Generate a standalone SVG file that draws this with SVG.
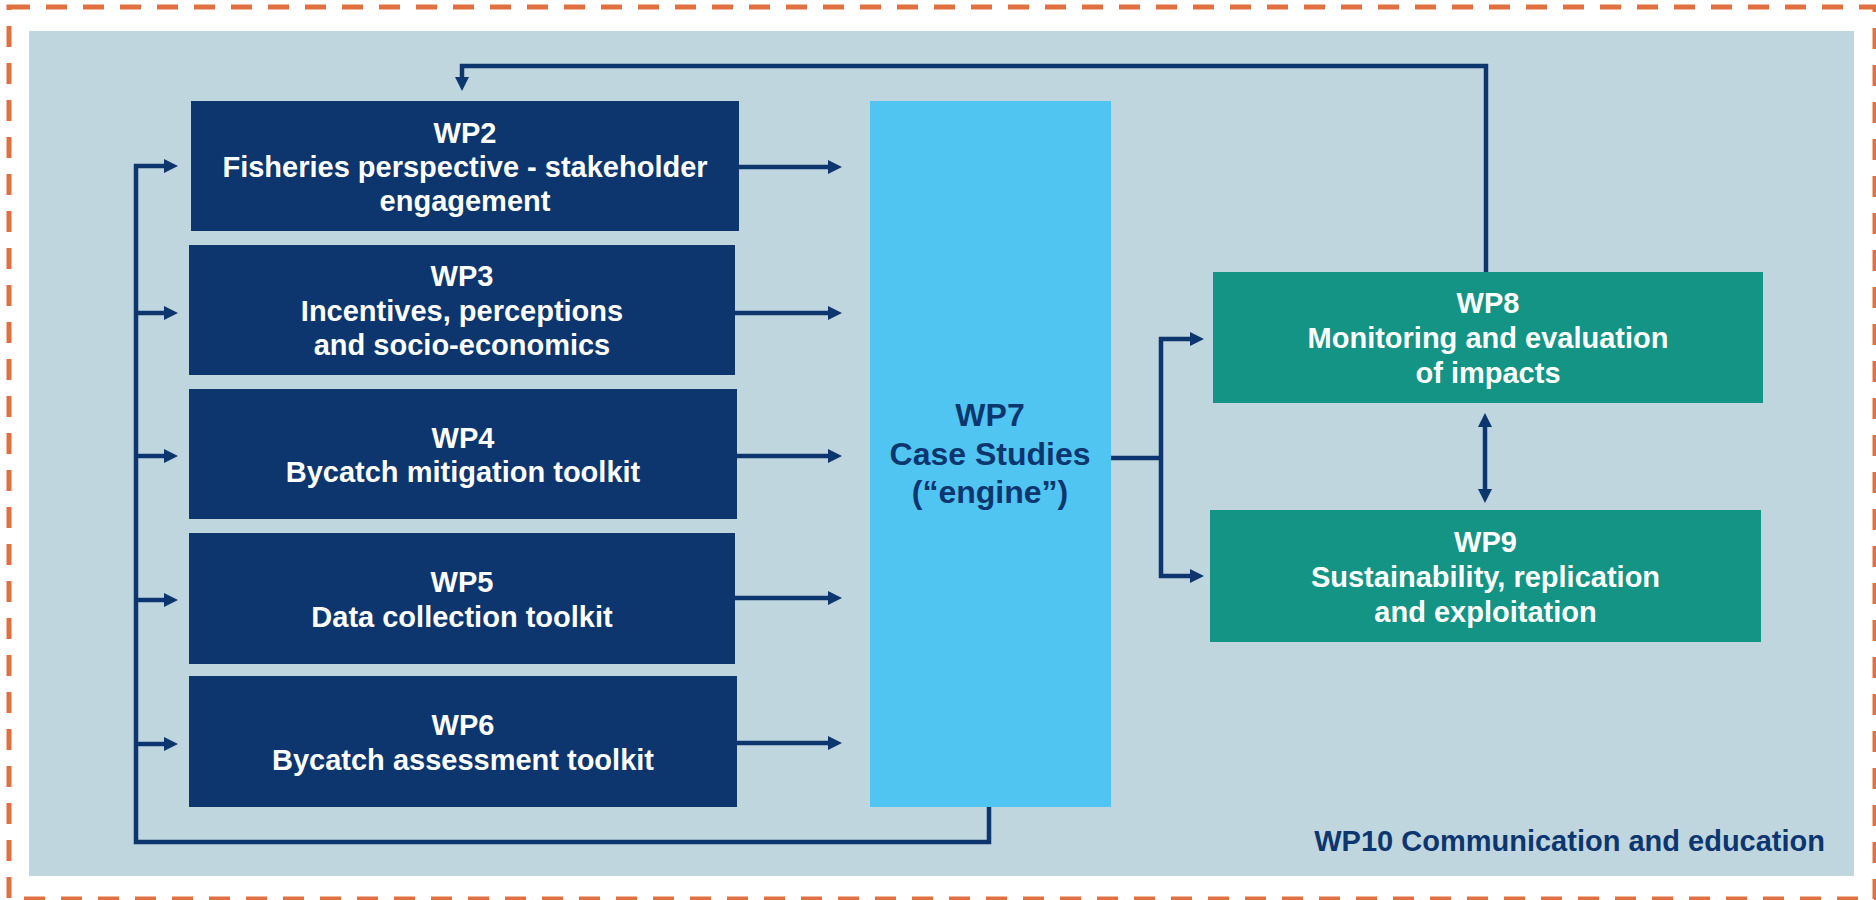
<svg xmlns="http://www.w3.org/2000/svg" width="1876" height="900" viewBox="0 0 1876 900">
<style>
  .nav { fill: #0d366e; }
  .sky { fill: #51c5f2; }
  .teal { fill: #149484; }
  .t { font-family: "Liberation Sans", Arial, Helvetica, sans-serif; font-weight: bold; font-size: 29px; fill: #ffffff; text-anchor: middle; }
  .t7 { font-family: "Liberation Sans", Arial, Helvetica, sans-serif; font-weight: bold; font-size: 32px; fill: #0d366e; text-anchor: middle; }
  .t10 { font-family: "Liberation Sans", Arial, Helvetica, sans-serif; font-weight: bold; font-size: 29px; fill: #0d366e; text-anchor: end; }
  .c { fill: none; stroke: #0d366e; stroke-width: 4.5; }
  .a { fill: none; stroke: #0d366e; stroke-width: 4.5; marker-end: url(#ah); }
  .d { fill: none; stroke: #0d366e; stroke-width: 4.5; marker-start: url(#ah); marker-end: url(#ah); }
</style>
<defs>
  <marker id="ah" markerUnits="userSpaceOnUse" markerWidth="14" markerHeight="14" refX="3" refY="7" orient="auto-start-reverse">
    <path d="M0,0 L14,7 L0,14 Z" fill="#0d366e"/>
  </marker>
</defs>
<rect x="0" y="0" width="1876" height="900" fill="#ffffff"/>
<rect x="9" y="7" width="1866" height="892" fill="none" stroke="#e07040" stroke-width="5" stroke-dasharray="21 16"/>
<rect id="wp10" x="29" y="31" width="1825" height="845" fill="#bfd6de"/>
<text class="t10" x="1825" y="851">WP10 Communication and education</text>

<g id="connectors">
  <path class="c" d="M989 807 V842 H136 V164"/>
  <path class="a" d="M134 166 H167"/>
  <path class="a" d="M136 313 H167"/>
  <path class="a" d="M136 456 H167"/>
  <path class="a" d="M136 600 H167"/>
  <path class="a" d="M136 744 H167"/>
  <path class="a" d="M738 167 H831"/>
  <path class="a" d="M735 313 H831"/>
  <path class="a" d="M737 456 H831"/>
  <path class="a" d="M735 598 H831"/>
  <path class="a" d="M737 743 H831"/>
  <path class="c" d="M1110 458 H1161"/>
  <path class="c" d="M1161 337 V578"/>
  <path class="a" d="M1159 339 H1193"/>
  <path class="a" d="M1159 576 H1193"/>
  <path class="a" d="M1486 272 V66 H462 V80"/>
  <path class="d" d="M1485 424 V492"/>
</g>

<g id="wp2">
  <rect class="nav" x="191" y="101" width="548" height="130"/>
  <text class="t" x="465" y="143">WP2</text>
  <text class="t" x="465" y="177">Fisheries perspective - stakeholder</text>
  <text class="t" x="465" y="211">engagement</text>
</g>
<g id="wp3">
  <rect class="nav" x="189" y="245" width="546" height="130"/>
  <text class="t" x="462" y="286">WP3</text>
  <text class="t" x="462" y="320.5">Incentives, perceptions</text>
  <text class="t" x="462" y="355">and socio-economics</text>
</g>
<g id="wp4">
  <rect class="nav" x="189" y="389" width="548" height="130"/>
  <text class="t" x="463" y="447.5">WP4</text>
  <text class="t" x="463" y="481.5">Bycatch mitigation toolkit</text>
</g>
<g id="wp5">
  <rect class="nav" x="189" y="533" width="546" height="131"/>
  <text class="t" x="462" y="592">WP5</text>
  <text class="t" x="462" y="626.5">Data collection toolkit</text>
</g>
<g id="wp6">
  <rect class="nav" x="189" y="676" width="548" height="131"/>
  <text class="t" x="463" y="735">WP6</text>
  <text class="t" x="463" y="769.5">Bycatch assessment toolkit</text>
</g>
<g id="wp7">
  <rect class="sky" x="870" y="101" width="241" height="706"/>
  <text class="t7" x="990" y="426">WP7</text>
  <text class="t7" x="990" y="465">Case Studies</text>
  <text class="t7" x="990" y="503">(“engine”)</text>
</g>
<g id="wp8">
  <rect class="teal" x="1213" y="272" width="550" height="131"/>
  <text class="t" x="1488" y="313">WP8</text>
  <text class="t" x="1488" y="348">Monitoring and evaluation</text>
  <text class="t" x="1488" y="383">of impacts</text>
</g>
<g id="wp9">
  <rect class="teal" x="1210" y="510" width="551" height="132"/>
  <text class="t" x="1485.5" y="552">WP9</text>
  <text class="t" x="1485.5" y="587">Sustainability, replication</text>
  <text class="t" x="1485.5" y="622">and exploitation</text>
</g>
</svg>
